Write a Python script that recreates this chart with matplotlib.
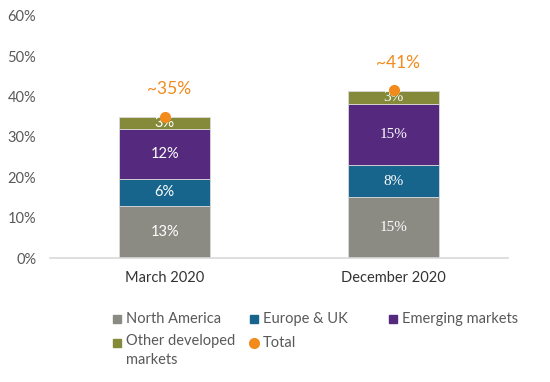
import matplotlib

matplotlib.use("Agg")
import matplotlib.pyplot as plt
import numpy as np
from matplotlib.lines import Line2D

categories = ["March 2020", "December 2020"]
series_names = ["North America", "Europe & UK", "Emerging markets", "Other developed\nmarkets"]
north_america = [13.0, 15.1]
europe_uk = [6.6, 8.0]
emerging = [12.4, 15.1]
other_dev = [2.9, 3.1]
seg_labels = [["13%", "15%"], ["6%", "8%"], ["12%", "15%"], ["3%", "3%"]]
total = [35.0, 41.5]
total_labels = ["~35%", "~41%"]
y_ticks = [0, 10, 20, 30, 40, 50, 60]

colors = ["#8b8b84", "#17658d", "#552a7e", "#848a39"]
orange = "#f28a1c"
gray_text = "#595959"

plt.rcParams["font.family"] = ["Lato", "DejaVu Sans"]

fig = plt.figure(figsize=(5.5, 3.82), dpi=100)
ax = fig.add_axes([0.091, 0.324, 0.833, 0.635])

x = np.arange(len(categories))
bottom = np.zeros(len(categories))
for name, vals, col, labs in zip(series_names, [north_america, europe_uk, emerging, other_dev], colors, seg_labels):
    vals = np.array(vals)
    ax.bar(x, vals, 0.4, bottom=bottom, color=col, edgecolor="#d9d9d9", linewidth=0.6, label=name)
    for i in range(len(x)):
        fam = "Lato" if i == 0 else "Liberation Serif"
        fs = 10.5 if i == 0 else 11
        ax.text(x[i], bottom[i] + vals[i] / 2, labs[i], ha="center", va="center",
                color="white", fontsize=fs, family=fam)
    bottom = bottom + vals

ax.plot(x, total, "o", color=orange, markersize=7, zorder=5)
for i in range(len(x)):
    ax.annotate(total_labels[i], (x[i], total[i]), xytext=(3, 20), textcoords="offset points",
                ha="center", va="center", color=orange, fontsize=12.5)

ax.set_xlim(-0.5, 1.5)
ax.set_ylim(0, 60)
ax.set_yticks(y_ticks)
ax.set_yticklabels([f"{v}%" for v in y_ticks])
ax.set_xticks(x)
ax.set_xticklabels(categories)
ax.tick_params(axis="y", length=0, pad=10, labelsize=10.5, labelcolor=gray_text)
ax.tick_params(axis="x", length=0, pad=9, labelsize=10.5, labelcolor="#333333")
for s in ["left", "right", "top"]:
    ax.spines[s].set_visible(False)
ax.spines["bottom"].set_color("#d9d9d9")
ax.spines["bottom"].set_linewidth(1.2)

# legend, placed by hand to keep the fixed column grid
W, H = 550, 382
legend_items = [
    (series_names[0], colors[0], "s", 117, 319),
    (series_names[1], colors[1], "s", 254, 319),
    (series_names[2], colors[2], "s", 393, 319),
    (series_names[3], colors[3], "s", 117, 343),
    ("Total", orange, "o", 254, 343),
]
for label, col, mk, px, py in legend_items:
    fig.add_artist(Line2D([px / W], [1 - py / H], marker=mk, color=col, markersize=6 if mk == "s" else 7,
                          linestyle="none", transform=fig.transFigure))
    if "\n" in label:
        fig.text((px + 9) / W, 1 - (py - 9) / H, label, ha="left", va="top",
                 fontsize=10.5, color=gray_text, linespacing=1.45)
    else:
        fig.text((px + 9) / W, 1 - py / H, label, ha="left", va="center",
                 fontsize=10.5, color=gray_text)

fig.savefig("out.png", dpi=100)
